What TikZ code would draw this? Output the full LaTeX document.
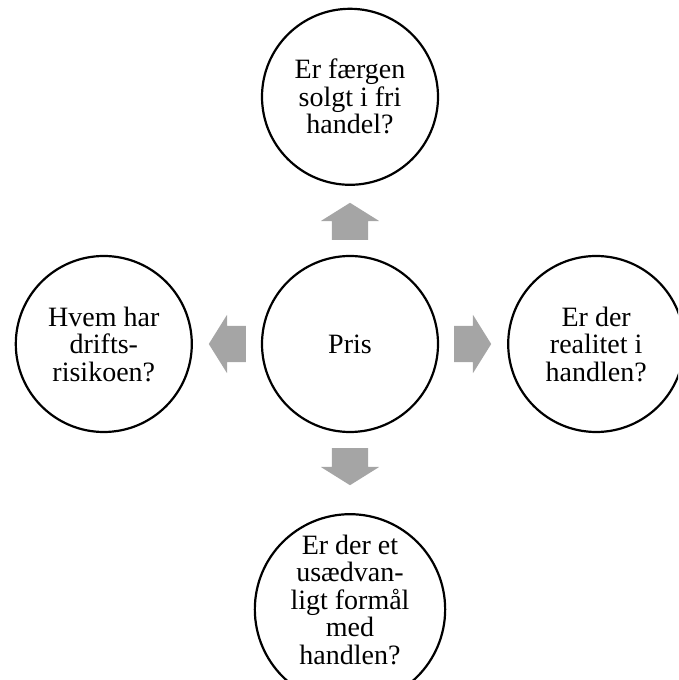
\documentclass[tikz,border=0pt]{standalone}
\usepackage{fontspec}
\setmainfont{Liberation Serif}
\usetikzlibrary{positioning,shapes.arrows}
\definecolor{arrowgray}{RGB}{165,165,165}

\begin{document}
\begin{tikzpicture}[x=1pt, y=1pt, node distance=69pt,
    question/.style={circle,draw=black,line width=2.2pt,minimum size=176pt,inner sep=0pt,
      align=center,text=black,font=\fontsize{28}{27.5}\selectfont},
    blockarrow/.style={single arrow,fill=arrowgray,draw=none,inner xsep=0pt,inner ysep=18pt,
      minimum height=37pt,single arrow head extend=11pt,single arrow tip angle=116,anchor=tail}]
  \useasboundingbox (0,0) rectangle (678,680);
  \clip (0,0) rectangle (678,680);
  \node[question] at (350,336) (pris) {Pris};
  \node[question,above=of pris] (fri) {Er færgen\\solgt i fri\\handel?};
  \node[question,left=68pt of pris] (risiko) {Hvem har\\drifts-\\risikoen?};
  \node[question,right=68pt of pris] (realitet) {Er der\\realitet i\\handlen?};
  \node[question,below=80pt of pris,text depth=20pt] (formaal) {Er der et\\usædvan-\\ligt formål\\med\\handlen?};
  % block arrows from the centre
  \foreach \ang in {0,90,180,270}
    \node[blockarrow,rotate=\ang] (arrow\ang) at ([shift={(\ang:104pt)}]pris.center) {};
\end{tikzpicture}
\end{document}
